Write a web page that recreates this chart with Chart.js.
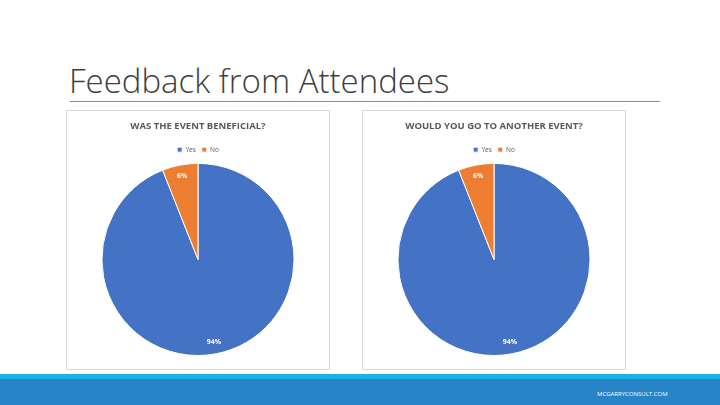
<!DOCTYPE html>
<html><head><meta charset="utf-8">
<script src="https://cdn.jsdelivr.net/npm/chart.js@4"></script>
<style>
  body { margin:0; width:720px; height:405px; position:relative; background:#fff; font-family:"Open Sans",sans-serif; overflow:hidden; }
  .title { position:absolute; left:69px; top:58px; font-size:33px; font-weight:300; color:#404040; }
  .rule { position:absolute; left:70px; top:101px; width:590px; height:1px; background:#8c8c8c; }
  .box { position:absolute; top:110px; width:264px; height:260px; border:1px solid #d9d9d9; box-sizing:border-box; }
  .band1 { position:absolute; left:0; top:374px; width:720px; height:5px; background:#1fb1e6; }
  .band2 { position:absolute; left:0; top:379px; width:720px; height:26px; background:#2583c6; }
  .site { position:absolute; left:597px; top:390px; font-size:6px; color:#fff; }
</style></head>
<body>
<div class="title">Feedback from Attendees</div>
<div class="rule"></div>
<div class="box" style="left:66px"><canvas id="c1" width="262" height="258"></canvas></div>
<div class="box" style="left:362px"><canvas id="c2" width="262" height="258"></canvas></div>
<div class="band1"></div><div class="band2"></div>
<div class="site">MCGARRYCONSULT.COM</div>
<script>
const categories = ['Yes', 'No'];
const titles = ['WAS THE EVENT BENEFICIAL?', 'WOULD YOU GO TO ANOTHER EVENT?'];
const beneficial = [94, 6];
const anotherEvent = [94, 6];
const colors = ['#4472c4', '#ed7d31'];

const pctLabels = {
  id: 'pctLabels',
  afterDatasetsDraw(chart) {
    const ctx = chart.ctx;
    const meta = chart.getDatasetMeta(0);
    ctx.save();
    ctx.fillStyle = '#fff';
    ctx.font = 'bold 7px "Open Sans"';
    ctx.textAlign = 'center';
    ctx.textBaseline = 'middle';
    meta.data.forEach((arc, i) => {
      const mid = (arc.startAngle + arc.endAngle) / 2;
      const r = arc.outerRadius * 0.88;
      ctx.fillText(chart.data.datasets[0].data[i] + '%', arc.x + Math.cos(mid) * r, arc.y + Math.sin(mid) * r);
    });
    ctx.restore();
  }
};

function makePie(id, title, values) {
  new Chart(document.getElementById(id), {
    type: 'pie',
    data: { labels: categories, datasets: [{ data: values, backgroundColor: colors, borderColor: '#fff', borderWidth: 1 }] },
    options: {
      responsive: false, animation: false,
      layout: { padding: { left: 33, right: 33, top: 0, bottom: 13 } },
      plugins: {
        title: { display: true, text: title, color: '#595959', font: { size: 9.5, weight: 'bold', family: 'Open Sans' }, padding: { top: 10, bottom: 8 } },
        legend: { position: 'top', labels: { boxWidth: 5, boxHeight: 5, padding: 6, color: '#595959', font: { size: 6.5, family: 'Open Sans' } } },
        tooltip: { enabled: false }
      }
    },
    plugins: [pctLabels]
  });
}
makePie('c1', titles[0], beneficial);
makePie('c2', titles[1], anotherEvent);
</script>
</body></html>
